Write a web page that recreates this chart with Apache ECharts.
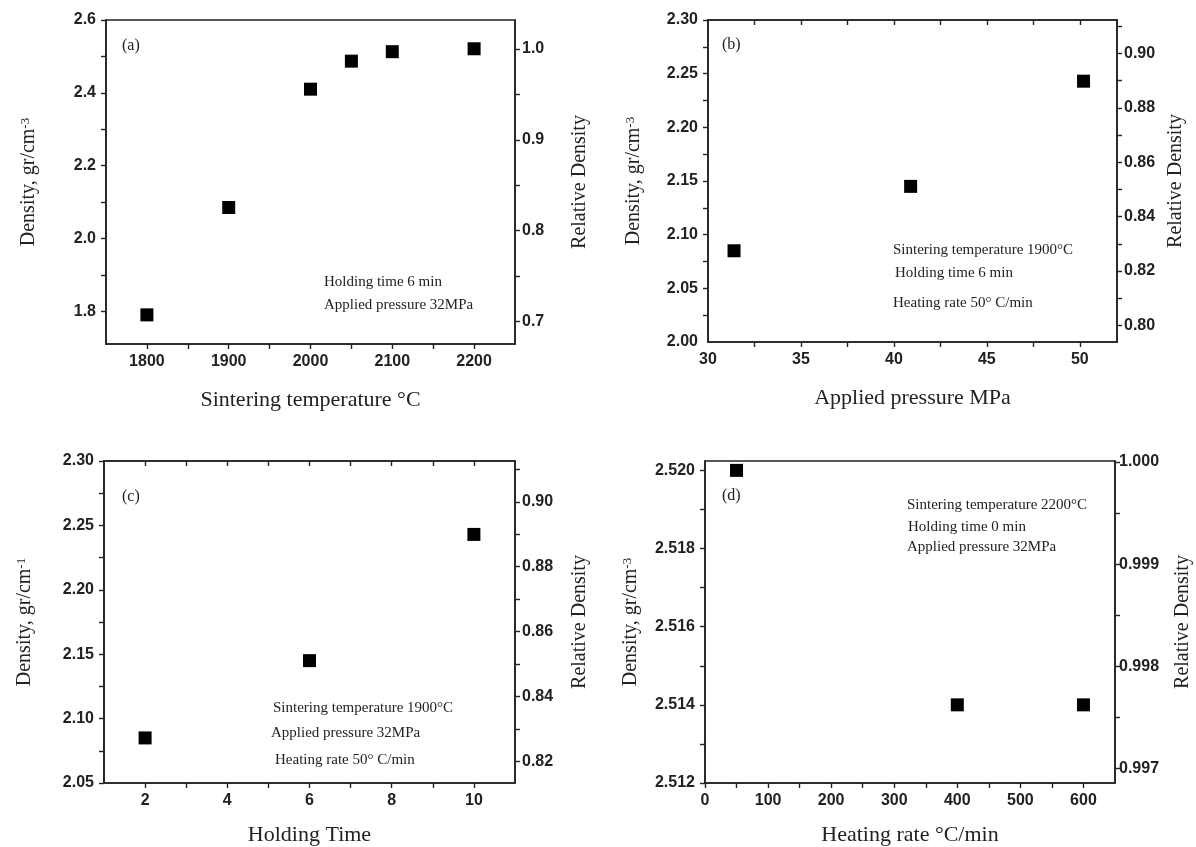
<!DOCTYPE html>
<html>
<head>
<meta charset="utf-8">
<script src="https://cdn.jsdelivr.net/npm/echarts@6/dist/echarts.min.js"></script>
<style>
  html, body { margin: 0; padding: 0; background: #fff; }
  #chart { width: 1196px; height: 847px; }
</style>
</head>
<body>
<div id="chart"></div>
<script>
// (a) sintering temperature
const tempC = [1800, 1900, 2000, 2050, 2100, 2200];
const densityA = [1.79, 2.085, 2.41, 2.487, 2.513, 2.521];
// (b) applied pressure
const pressureMPa = [31.4, 40.9, 50.2];
const densityB = [2.085, 2.145, 2.243];
// (c) holding time
const holdTime = [2, 6, 10];
const densityC = [2.085, 2.145, 2.243];
// (d) heating rate
const heatRate = [50, 400, 600];
const densityD = [2.520, 2.514, 2.514];

// tick labels
const labelsAx = [1800, 1900, 2000, 2100, 2200];
const ticksAx = [1800, 1850, 1900, 1950, 2000, 2050, 2100, 2150, 2200];
const labelsAy = [1.8, 2.0, 2.2, 2.4, 2.6];
const ticksAy = [1.8, 1.9, 2.0, 2.1, 2.2, 2.3, 2.4, 2.5, 2.6];
const labelsAr = [0.7, 0.8, 0.9, 1.0];
const ticksAr = [0.7, 0.75, 0.8, 0.85, 0.9, 0.95, 1.0];

const labelsBx = [30, 35, 40, 45, 50];
const ticksBx = [32.5, 35, 37.5, 40, 42.5, 45, 47.5, 50];
const labelsBy = [2.00, 2.05, 2.10, 2.15, 2.20, 2.25, 2.30];
const ticksBy = [2.025, 2.05, 2.075, 2.10, 2.125, 2.15, 2.175, 2.20, 2.225, 2.25, 2.275, 2.30];
const labelsBr = [0.80, 0.82, 0.84, 0.86, 0.88, 0.90];
const ticksBr = [0.80, 0.81, 0.82, 0.83, 0.84, 0.85, 0.86, 0.87, 0.88, 0.89, 0.90, 0.91];

const labelsCx = [2, 4, 6, 8, 10];
const ticksCx = [2, 3, 4, 5, 6, 7, 8, 9, 10];
const labelsCy = [2.05, 2.10, 2.15, 2.20, 2.25, 2.30];
const ticksCy = [2.05, 2.075, 2.10, 2.125, 2.15, 2.175, 2.20, 2.225, 2.25, 2.275, 2.30];
const labelsCr = [0.82, 0.84, 0.86, 0.88, 0.90];
const ticksCr = [0.82, 0.83, 0.84, 0.85, 0.86, 0.87, 0.88, 0.89, 0.90, 0.91];

const labelsDx = [0, 100, 200, 300, 400, 500, 600];
const ticksDx = [0, 50, 100, 150, 200, 250, 300, 350, 400, 450, 500, 550, 600];
const labelsDy = [2.512, 2.514, 2.516, 2.518, 2.520];
const ticksDy = [2.512, 2.513, 2.514, 2.515, 2.516, 2.517, 2.518, 2.519, 2.520];
const labelsDr = [0.997, 0.998, 0.999, 1.000];
const ticksDr = [0.997, 0.9975, 0.998, 0.9985, 0.999, 0.9995, 1.000];

const SANS = "'Liberation Sans', Arial, sans-serif";
const SERIF = "'Liberation Serif', 'Times New Roman', serif";
const INK = '#222';

const grids = [
    {left: 106, top: 20, width: 409, height: 324},
    {left: 708, top: 20, width: 409, height: 322},
    {left: 104, top: 461, width: 411, height: 323},
    {left: 705, top: 461, width: 410, height: 323}
];

function axis(o) {
    return {
        type: 'value',
        gridIndex: o.grid,
        position: o.pos,
        min: o.min,
        max: o.max,
        axisLine: {show: true, onZero: false, lineStyle: {color: INK, width: 1.6}},
        axisTick: {
            show: !!o.ticks, inside: !!o.inside, length: 5,
            customValues: o.ticks,
            lineStyle: {color: INK, width: 1.4}
        },
        axisLabel: {
            show: !!o.labels,
            customValues: o.labels,
            margin: o.margin || 8,
            formatter: v => v.toFixed(o.dec || 0),
            fontFamily: SANS, fontSize: 16, fontWeight: 'bold', color: INK
        },
        splitLine: {show: false},
        name: o.name,
        nameLocation: 'middle',
        nameGap: o.gap,
        nameRotate: o.rot,
        nameTextStyle: {
            fontFamily: SERIF, fontSize: o.rot ? 20 : 22, color: INK,
            rich: {
                b: {fontFamily: SERIF, fontSize: 20, color: INK, lineHeight: 20, verticalAlign: 'bottom'},
                s: {fontFamily: SERIF, fontSize: 13, color: INK, lineHeight: 13, verticalAlign: 'top'}
            }
        }
    };
}

const xAxes = [
    axis({grid: 0, pos: 'bottom', min: 1750, max: 2250, ticks: ticksAx, labels: labelsAx, margin: 10, name: 'Sintering temperature °C', gap: 45}),
    axis({grid: 1, pos: 'bottom', min: 30, max: 52, ticks: ticksBx, labels: labelsBx, margin: 10, name: 'Applied pressure MPa', gap: 45}),
    axis({grid: 2, pos: 'bottom', min: 1, max: 11, ticks: ticksCx, labels: labelsCx, margin: 10, name: 'Holding Time', gap: 41}),
    axis({grid: 3, pos: 'bottom', min: 0, max: 650, ticks: ticksDx, labels: labelsDx, margin: 10, name: 'Heating rate °C/min', gap: 41}),
    axis({grid: 1, pos: 'top', min: 30, max: 52, ticks: ticksBx, inside: true}),
    axis({grid: 2, pos: 'top', min: 1, max: 11, ticks: ticksCx, inside: true})
];

const yAxes = [
    axis({grid: 0, pos: 'left', min: 1.71, max: 2.6, ticks: ticksAy, labels: labelsAy, dec: 1, margin: 10, name: '{b|Density, gr/cm}{s|-3}', gap: 67, rot: 90}),
    axis({grid: 0, pos: 'right', min: 0.675, max: 1.032, ticks: ticksAr, labels: labelsAr, dec: 1, margin: 7, name: 'Relative Density', gap: 55, rot: 90}),
    axis({grid: 1, pos: 'left', min: 2.0, max: 2.3, ticks: ticksBy, labels: labelsBy, dec: 2, margin: 10, name: '{b|Density, gr/cm}{s|-3}', gap: 64, rot: 90}),
    axis({grid: 1, pos: 'right', min: 0.7939, max: 0.9123, ticks: ticksBr, labels: labelsBr, dec: 2, margin: 7, name: 'Relative Density', gap: 49, rot: 90}),
    axis({grid: 2, pos: 'left', min: 2.05, max: 2.3, ticks: ticksCy, labels: labelsCy, dec: 2, margin: 10, name: '{b|Density, gr/cm}{s|-1}', gap: 69, rot: 90}),
    axis({grid: 2, pos: 'right', min: 0.8133, max: 0.9126, ticks: ticksCr, labels: labelsCr, dec: 2, margin: 7, name: 'Relative Density', gap: 55, rot: 90}),
    axis({grid: 3, pos: 'left', min: 2.512, max: 2.52024, ticks: ticksDy, labels: labelsDy, dec: 3, margin: 10, name: '{b|Density, gr/cm}{s|-3}', gap: 64, rot: 90}),
    axis({grid: 3, pos: 'right', min: 0.99686, max: 1.00001, ticks: ticksDr, labels: labelsDr, dec: 3, margin: 4, name: 'Relative Density', gap: 58, rot: 90})
];

function points(xs, ys) {
    return xs.map((x, i) => [x, ys[i]]);
}

function scatter(idx, xs, ys) {
    return {
        type: 'scatter',
        xAxisIndex: idx,
        yAxisIndex: idx * 2,
        symbol: 'rect',
        symbolSize: 13,
        itemStyle: {color: '#000', opacity: 1},
        silent: true,
        data: points(xs, ys)
    };
}

function note(x, y, text, size) {
    return {
        type: 'text', x: x, y: y, silent: true,
        style: {text: text, fontFamily: SERIF, fontSize: size || 15, fill: INK, verticalAlign: 'middle'}
    };
}

const chart = echarts.init(document.getElementById('chart'), null, {renderer: 'canvas'});
chart.setOption({
    backgroundColor: '#fff',
    animation: false,
    grid: grids.map(g => Object.assign({show: true, borderColor: INK, borderWidth: 1.6, containLabel: false}, g)),
    xAxis: xAxes,
    yAxis: yAxes,
    series: [
        scatter(0, tempC, densityA),
        scatter(1, pressureMPa, densityB),
        scatter(2, holdTime, densityC),
        scatter(3, heatRate, densityD)
    ],
    graphic: [
        note(122, 46, '(a)', 16),
        note(324, 282, 'Holding time 6 min'),
        note(324, 305, 'Applied pressure 32MPa'),

        note(722, 45, '(b)', 16),
        note(893, 250, 'Sintering temperature 1900°C'),
        note(895, 273, 'Holding time 6 min'),
        note(893, 303, 'Heating rate 50° C/min'),

        note(122, 497, '(c)', 16),
        note(273, 708, 'Sintering temperature 1900°C'),
        note(271, 733, 'Applied pressure 32MPa'),
        note(275, 760, 'Heating rate 50° C/min'),

        note(722, 496, '(d)', 16),
        note(907, 505, 'Sintering temperature 2200°C'),
        note(908, 527, 'Holding time 0 min'),
        note(907, 547, 'Applied pressure 32MPa')
    ]
});
</script>
</body>
</html>
